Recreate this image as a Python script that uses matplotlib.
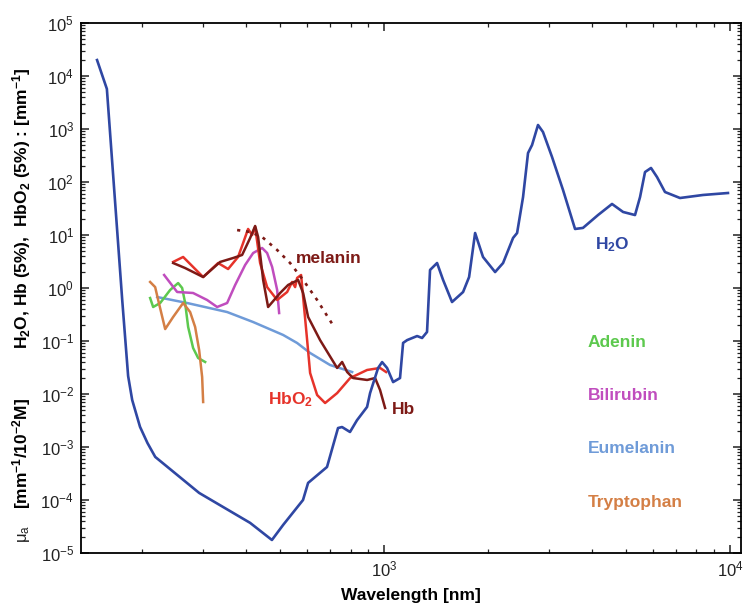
import numpy as np
import matplotlib
matplotlib.use("Agg")
import matplotlib.pyplot as plt
from matplotlib.ticker import LogLocator, NullFormatter, FixedLocator

plt.rcParams['font.family'] = ['Liberation Sans', 'DejaVu Sans']
plt.rcParams['mathtext.fontset'] = 'custom'
plt.rcParams['mathtext.rm'] = 'Liberation Sans'
plt.rcParams['mathtext.bf'] = 'Liberation Sans:bold'
plt.rcParams['mathtext.it'] = 'Liberation Sans:italic'

# Water absorption (wavelength nm, mu_a mm^-1)
h2o_wl = [148, 158, 175, 182, 187, 197, 207, 218, 292, 410, 474, 511, 583, 603,
          684, 736, 756, 797, 835, 893, 911, 961, 987, 1020, 1062, 1112, 1135,
          1166, 1246, 1288, 1331, 1358, 1423, 1481, 1572, 1692, 1761, 1833, 1932,
          2094, 2208, 2360, 2424, 2522, 2607, 2678, 2786, 2880, 3059, 3291, 3565,
          3758, 4154, 4560, 4908, 5314, 5495, 5680, 5911, 6152, 6488, 7168, 8356,
          9866]
h2o_mu = [2.0e4, 5.7e3, 0.59, 0.0219, 7.7e-3, 2.4e-3, 1.19e-3, 6.5e-4, 1.36e-4,
          3.7e-5, 1.76e-5, 3.4e-5, 1.0e-4, 2.1e-4, 4.2e-4, 2.28e-3, 2.38e-3,
          1.92e-3, 3.2e-3, 5.7e-3, 0.0104, 0.031, 0.040, 0.031, 0.0168, 0.020,
          0.092, 0.104, 0.124, 0.114, 0.148, 2.19, 2.96, 1.42, 0.544, 0.84, 1.61,
          10.9, 3.85, 2.0, 2.96, 8.8, 10.9, 52, 352, 499, 1190, 878, 296, 70.6,
          13.0, 13.6, 23.8, 38.5, 27.2, 23.8, 52, 154, 184, 124, 64.7, 49.9, 56.9,
          62]

# Oxyhaemoglobin (5%)
hbo2_wl = [245.6, 262.5, 299.9, 331.3, 354.1, 378.4, 391.3, 404.5, 415.5, 423.9,
           438.2, 459.1, 490.8, 524.5, 542.2, 553.2, 560.6, 575.6, 583.4, 599.2,
           611.2, 640.4, 675.3, 731.6, 797.7, 893.3, 973.6, 1013.4]
hbo2_mu = [3.10, 3.85, 1.61, 2.96, 2.28, 3.85, 7.06, 13.0, 10.0, 14.2, 2.96, 1.04,
           0.594, 0.841, 1.30, 1.04, 1.55, 1.76, 0.676, 0.104, 0.0249, 0.00957,
           0.00676, 0.0104, 0.0200, 0.0284, 0.0310, 0.0260]

# Deoxyhaemoglobin (5%)
hb_wl = [245.6, 266.0, 299.9, 335.7, 366.2, 388.7, 410.0, 423.9, 432.4, 447.1,
         462.1, 500.6, 527.9, 564.3, 583.4, 603.1, 653.1, 731.6, 756.3, 782.0,
         813.8, 893.3, 941.9, 973.6, 1006.7]
hb_mu = [2.96, 2.38, 1.61, 3.10, 3.68, 4.20, 8.77, 14.8, 9.17, 1.42, 0.438, 0.805,
         1.14, 1.42, 0.805, 0.284, 0.104, 0.0310, 0.0402, 0.0260, 0.0200, 0.0184,
         0.0200, 0.0119, 0.00545]

# Melanin (dotted)
melanin_wl = [376.0, 410.0, 444.1, 490.8, 535.0, 583.4, 640.4, 717.1]
melanin_mu = [12.4, 11.4, 9.17, 5.21, 2.96, 1.42, 0.594, 0.184]

# Molar absorption [mm^-1 / 10^-2 M]
bilirubin_wl = [231.3, 252.2, 280.5, 307.9, 329.1, 351.8, 371.1, 396.6, 418.3,
                444.1, 459.1, 474.7, 490.8, 497.3]
bilirubin_mu = [1.76, 0.841, 0.805, 0.594, 0.438, 0.521, 1.14, 2.72, 4.57, 5.69,
                4.57, 2.49, 0.917, 0.337]

eumelanin_wl = [220.8, 269.6, 351.8, 418.3, 510.7, 560.6, 611.2, 698.2, 808.4]
eumelanin_mu = [0.676, 0.521, 0.352, 0.228, 0.130, 0.0917, 0.0594, 0.0352, 0.0260]

adenin_wl = [210.7, 215.0, 225.3, 240.7, 253.9, 260.8, 266.0, 271.4, 280.5, 290.0,
             303.9]
adenin_mu = [0.647, 0.438, 0.521, 0.917, 1.24, 1.0, 0.521, 0.184, 0.0738, 0.0478,
             0.0402]

tryptophan_wl = [210.7, 217.9, 222.3, 232.9, 245.6, 262.5, 275.0, 284.3, 292.0,
                 297.9, 299.9]
tryptophan_mu = [1.30, 1.04, 0.594, 0.168, 0.284, 0.521, 0.352, 0.184, 0.0676,
                 0.0209, 0.00706]

# Legend-like labels on the right
label_names = ["Adenin", "Bilirubin", "Eumelanin", "Tryptophan"]
label_mu = [0.0917, 0.00957, 9.57e-4, 8.8e-5]

c_h2o = "#2F47A3"
c_hbo2 = "#E6332A"
c_hb = "#7D1A16"
c_bili = "#C04DBE"
c_eumel = "#6F9BD8"
c_aden = "#5DC94E"
c_tryp = "#D47F45"
label_colors = [c_aden, c_bili, c_eumel, c_tryp]

fig = plt.figure(figsize=(7.44, 6.06), dpi=100)
ax = fig.add_axes([81 / 744, 53 / 606, 660 / 744, 530 / 606])

ax.plot(eumelanin_wl, eumelanin_mu, color=c_eumel, lw=1.8)
ax.plot(adenin_wl, adenin_mu, color=c_aden, lw=1.8)
ax.plot(tryptophan_wl, tryptophan_mu, color=c_tryp, lw=1.8)
ax.plot(bilirubin_wl, bilirubin_mu, color=c_bili, lw=1.8)
ax.plot(hbo2_wl, hbo2_mu, color=c_hbo2, lw=1.8)
ax.plot(hb_wl, hb_mu, color=c_hb, lw=1.8)
ax.plot(melanin_wl, melanin_mu, color=c_hb, lw=1.9, linestyle=(0, (1.2, 2.2)))
ax.plot(h2o_wl, h2o_mu, color=c_h2o, lw=1.9)

ax.set_xscale("log")
ax.set_yscale("log")
ax.set_xlim(133, 10760)
ax.set_ylim(1e-5, 1e5)

ax.xaxis.set_major_locator(FixedLocator([1e3, 1e4]))
ax.xaxis.set_minor_locator(LogLocator(base=10, subs=np.arange(2, 10), numticks=200))
ax.xaxis.set_minor_formatter(NullFormatter())
ax.yaxis.set_major_locator(LogLocator(base=10, numticks=20))
ax.yaxis.set_minor_locator(LogLocator(base=10, subs=np.arange(2, 10), numticks=200))
ax.yaxis.set_minor_formatter(NullFormatter())

ax.tick_params(which="both", direction="in", top=True, right=True,
               labelsize=12, colors="#222222", pad=5)
ax.tick_params(which="major", length=6, width=1.1)
ax.tick_params(which="minor", length=3, width=0.9)
for spine in ax.spines.values():
    spine.set_linewidth(1.3)

ax.set_xlabel("Wavelength [nm]", fontsize=12.5, fontweight="bold", labelpad=6)

# Y label in three pieces
fig.text(22 / 744, 1 - 208 / 606,
         r"H$_{\mathbf{2}}$O, Hb (5%),  HbO$_{\mathbf{2}}$ (5%) : [mm$^{\mathbf{-1}}$]",
         rotation=90, ha="center", va="center", fontsize=12.5, fontweight="bold")
fig.text(22 / 744, 1 - 453 / 606, r"[mm$^{\mathbf{-1}}$/10$^{\mathbf{-2}}$M]",
         rotation=90, ha="center", va="center", fontsize=12.5, fontweight="bold")
fig.text(24 / 744, 1 - 534 / 606, r"μ$_{\mathrm{a}}$", rotation=90, ha="center",
         va="center", fontsize=12, color="#222222")

# Curve labels
ax.text(4560, 6.47, r"H$_{\mathbf{2}}$O", color=c_h2o, fontsize=12.5,
        fontweight="bold", ha="center", va="center")
ax.text(557, 3.68, "melanin", color=c_hb, fontsize=12.5, fontweight="bold",
        va="center")
ax.text(535, 0.0077, r"HbO$_{\mathbf{2}}$", color=c_hbo2, fontsize=12.5,
        fontweight="bold", ha="center", va="center")
ax.text(1135, 0.005, "Hb", color=c_hb, fontsize=12.5, fontweight="bold",
        ha="center", va="center")

for name, col, mu in zip(label_names, label_colors, label_mu):
    ax.text(3887, mu, name, color=col, fontsize=12.5, fontweight="bold", va="center")

fig.savefig("out.png", dpi=100)
